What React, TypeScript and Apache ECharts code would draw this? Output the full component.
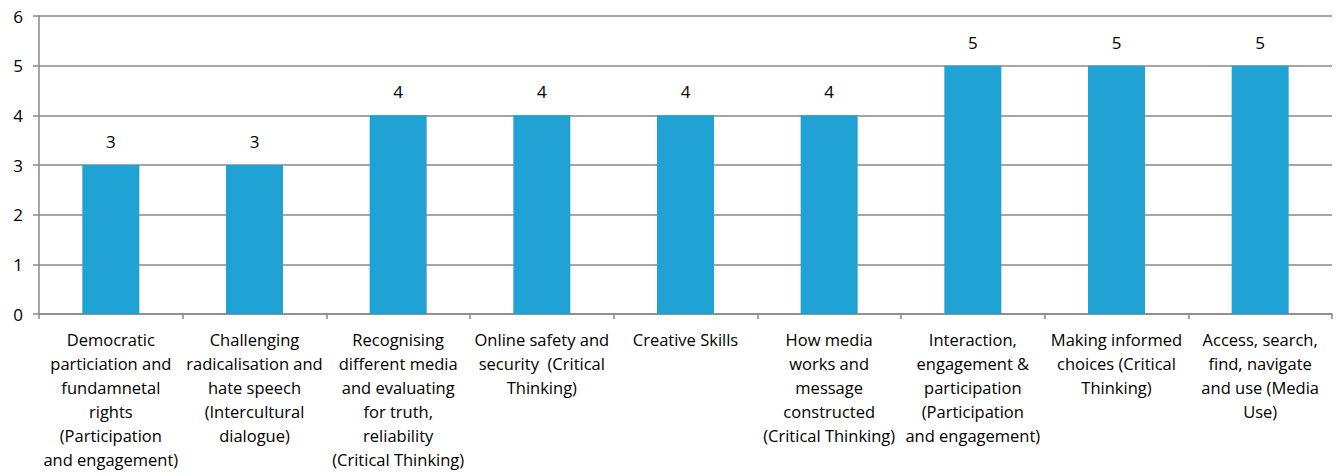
import React, { useEffect, useRef } from "react";
import * as echarts from "echarts";

const categories = [
  "Democratic\nparticiation and\nfundamnetal\nrights\n(Participation\nand engagement)",
  "Challenging\nradicalisation and\nhate speech\n(Intercultural\ndialogue)",
  "Recognising\ndifferent media\nand evaluating\nfor truth,\nreliability\n(Critical Thinking)",
  "Online safety and\nsecurity  (Critical\nThinking)",
  "Creative Skills",
  "How media\nworks and\nmessage\nconstructed\n(Critical Thinking)",
  "Interaction,\nengagement &\nparticipation\n(Participation\nand engagement)",
  "Making informed\nchoices (Critical\nThinking)",
  "Access, search,\nfind, navigate\nand use (Media\nUse)",
];
const values = [3, 3, 4, 4, 4, 4, 5, 5, 5];

const FONT = "'Open Sans', sans-serif";

export default function App() {
  const ref = useRef<HTMLDivElement>(null);
  useEffect(() => {
    document.body.style.margin = "0";
    const chart = echarts.init(ref.current!, undefined, { renderer: "svg" });
    chart.setOption({
      animation: false,
      grid: { left: 39, right: 6, top: 16, bottom: 162, containLabel: false },
      xAxis: {
        type: "category",
        data: categories,
        axisLine: { lineStyle: { color: "#898989", width: 1.5 } },
        axisTick: { show: true, length: 5, alignWithLabel: false, lineStyle: { color: "#898989", width: 1.5 } },
        axisLabel: {
          interval: 0,
          color: "#000",
          fontFamily: FONT,
          fontSize: 16.5,
          lineHeight: 24,
          margin: 13,
          align: "center",
        },
      },
      yAxis: {
        type: "value",
        min: 0,
        max: 6,
        interval: 1,
        axisLine: { show: true, lineStyle: { color: "#898989", width: 1.5 } },
        axisTick: { show: true, length: 6, lineStyle: { color: "#898989", width: 1.5 } },
        splitLine: { lineStyle: { color: "#898989", width: 1.5 } },
        axisLabel: { color: "#000", fontFamily: FONT, fontSize: 17, margin: 16 },
      },
      series: [
        {
          type: "bar",
          data: values,
          barWidth: 57,
          itemStyle: { color: "#21A2D5" },
          label: {
            show: true,
            position: "top",
            distance: 15,
            color: "#000",
            fontFamily: FONT,
            fontSize: 17,
          },
        },
      ],
    });
    return () => chart.dispose();
  }, []);
  return <div ref={ref} style={{ width: 1338, height: 476 }} />;
}
